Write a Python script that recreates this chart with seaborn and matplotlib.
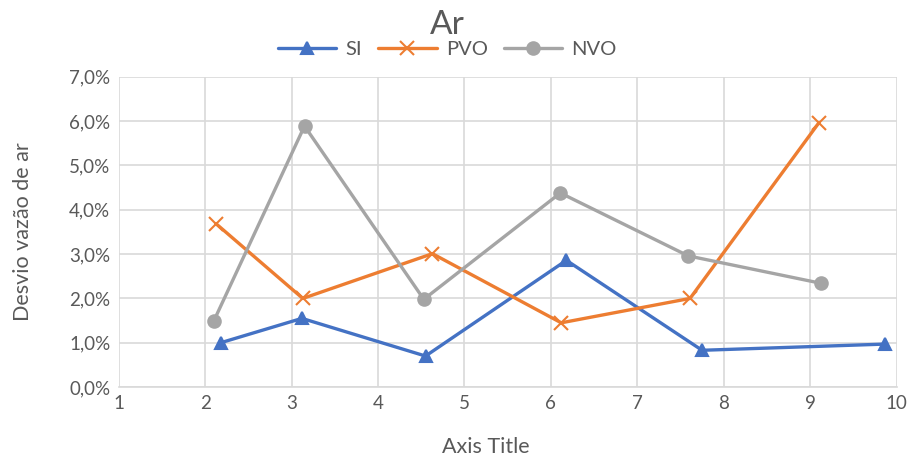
import matplotlib
matplotlib.use("Agg")
import matplotlib.pyplot as plt
import seaborn as sns
import pandas as pd
from matplotlib.ticker import FuncFormatter, MultipleLocator

# Air flow deviation (%) per series
si_x = [2.18, 3.12, 4.55, 6.18, 7.75, 9.87]
si_y = [1.00, 1.55, 0.70, 2.86, 0.83, 0.97]

pvo_x = [2.13, 3.13, 4.63, 6.12, 7.61, 9.10]
pvo_y = [3.68, 2.00, 3.01, 1.45, 2.00, 5.96]

nvo_x = [2.10, 3.15, 4.53, 6.11, 7.59, 9.13]
nvo_y = [1.49, 5.89, 1.98, 4.38, 2.96, 2.34]

series_names = ["SI", "PVO", "NVO"]
colors = {"SI": "#4472C4", "PVO": "#ED7D31", "NVO": "#A5A5A5"}
markers = {"SI": "^", "PVO": "x", "NVO": "o"}

sns.set_theme(style="white")
plt.rcParams["font.family"] = ["Lato", "DejaVu Sans"]
text_color = "#595959"

fig = plt.figure(figsize=(9.13, 4.63), dpi=100)
ax = fig.add_axes([0.130, 0.164, 0.852, 0.670])

for name, xs, ys in zip(series_names, [si_x, pvo_x, nvo_x], [si_y, pvo_y, nvo_y]):
    df = pd.DataFrame({"x": xs, "y": ys})
    sns.lineplot(
        data=df, x="x", y="y", sort=False, color=colors[name],
        marker=markers[name], linewidth=2.4,
        markersize=10 if name == "PVO" else 9,
        markeredgewidth=1.5, markeredgecolor=colors[name],
        label=name, ax=ax,
    )

ax.set_xlim(1, 10)
ax.set_ylim(0, 7)
ax.xaxis.set_major_locator(MultipleLocator(1))
ax.yaxis.set_major_locator(MultipleLocator(1))
ax.yaxis.set_major_formatter(FuncFormatter(lambda v, p: f"{v:.1f}%".replace(".", ",")))

ax.grid(True, color="#D9D9D9", linewidth=1.2)
ax.set_axisbelow(True)
for side in ["top", "right", "left"]:
    ax.spines[side].set_visible(False)
ax.spines["bottom"].set_color("#D9D9D9")
ax.spines["bottom"].set_linewidth(1.2)

ax.tick_params(axis="both", length=0, labelsize=13.5, colors=text_color, pad=6)

ax.set_xlabel("Axis Title", fontsize=15.5, color=text_color)
ax.xaxis.set_label_coords(0.472, -0.16)
ax.set_ylabel("Desvio vazão de ar", fontsize=15.5, color=text_color, labelpad=26)

fig.text(0.49, 0.945, "Ar", ha="center", va="center", fontsize=24, color=text_color)

handles, labels = ax.get_legend_handles_labels()
ax.legend(
    handles, labels, ncol=3, loc="center", bbox_to_anchor=(0.49, 0.893),
    bbox_transform=fig.transFigure, frameon=False, fontsize=14.5,
    handlelength=2.9, handletextpad=0.45, columnspacing=0.8,
    labelcolor=text_color,
)

fig.savefig("out.png", dpi=100)
